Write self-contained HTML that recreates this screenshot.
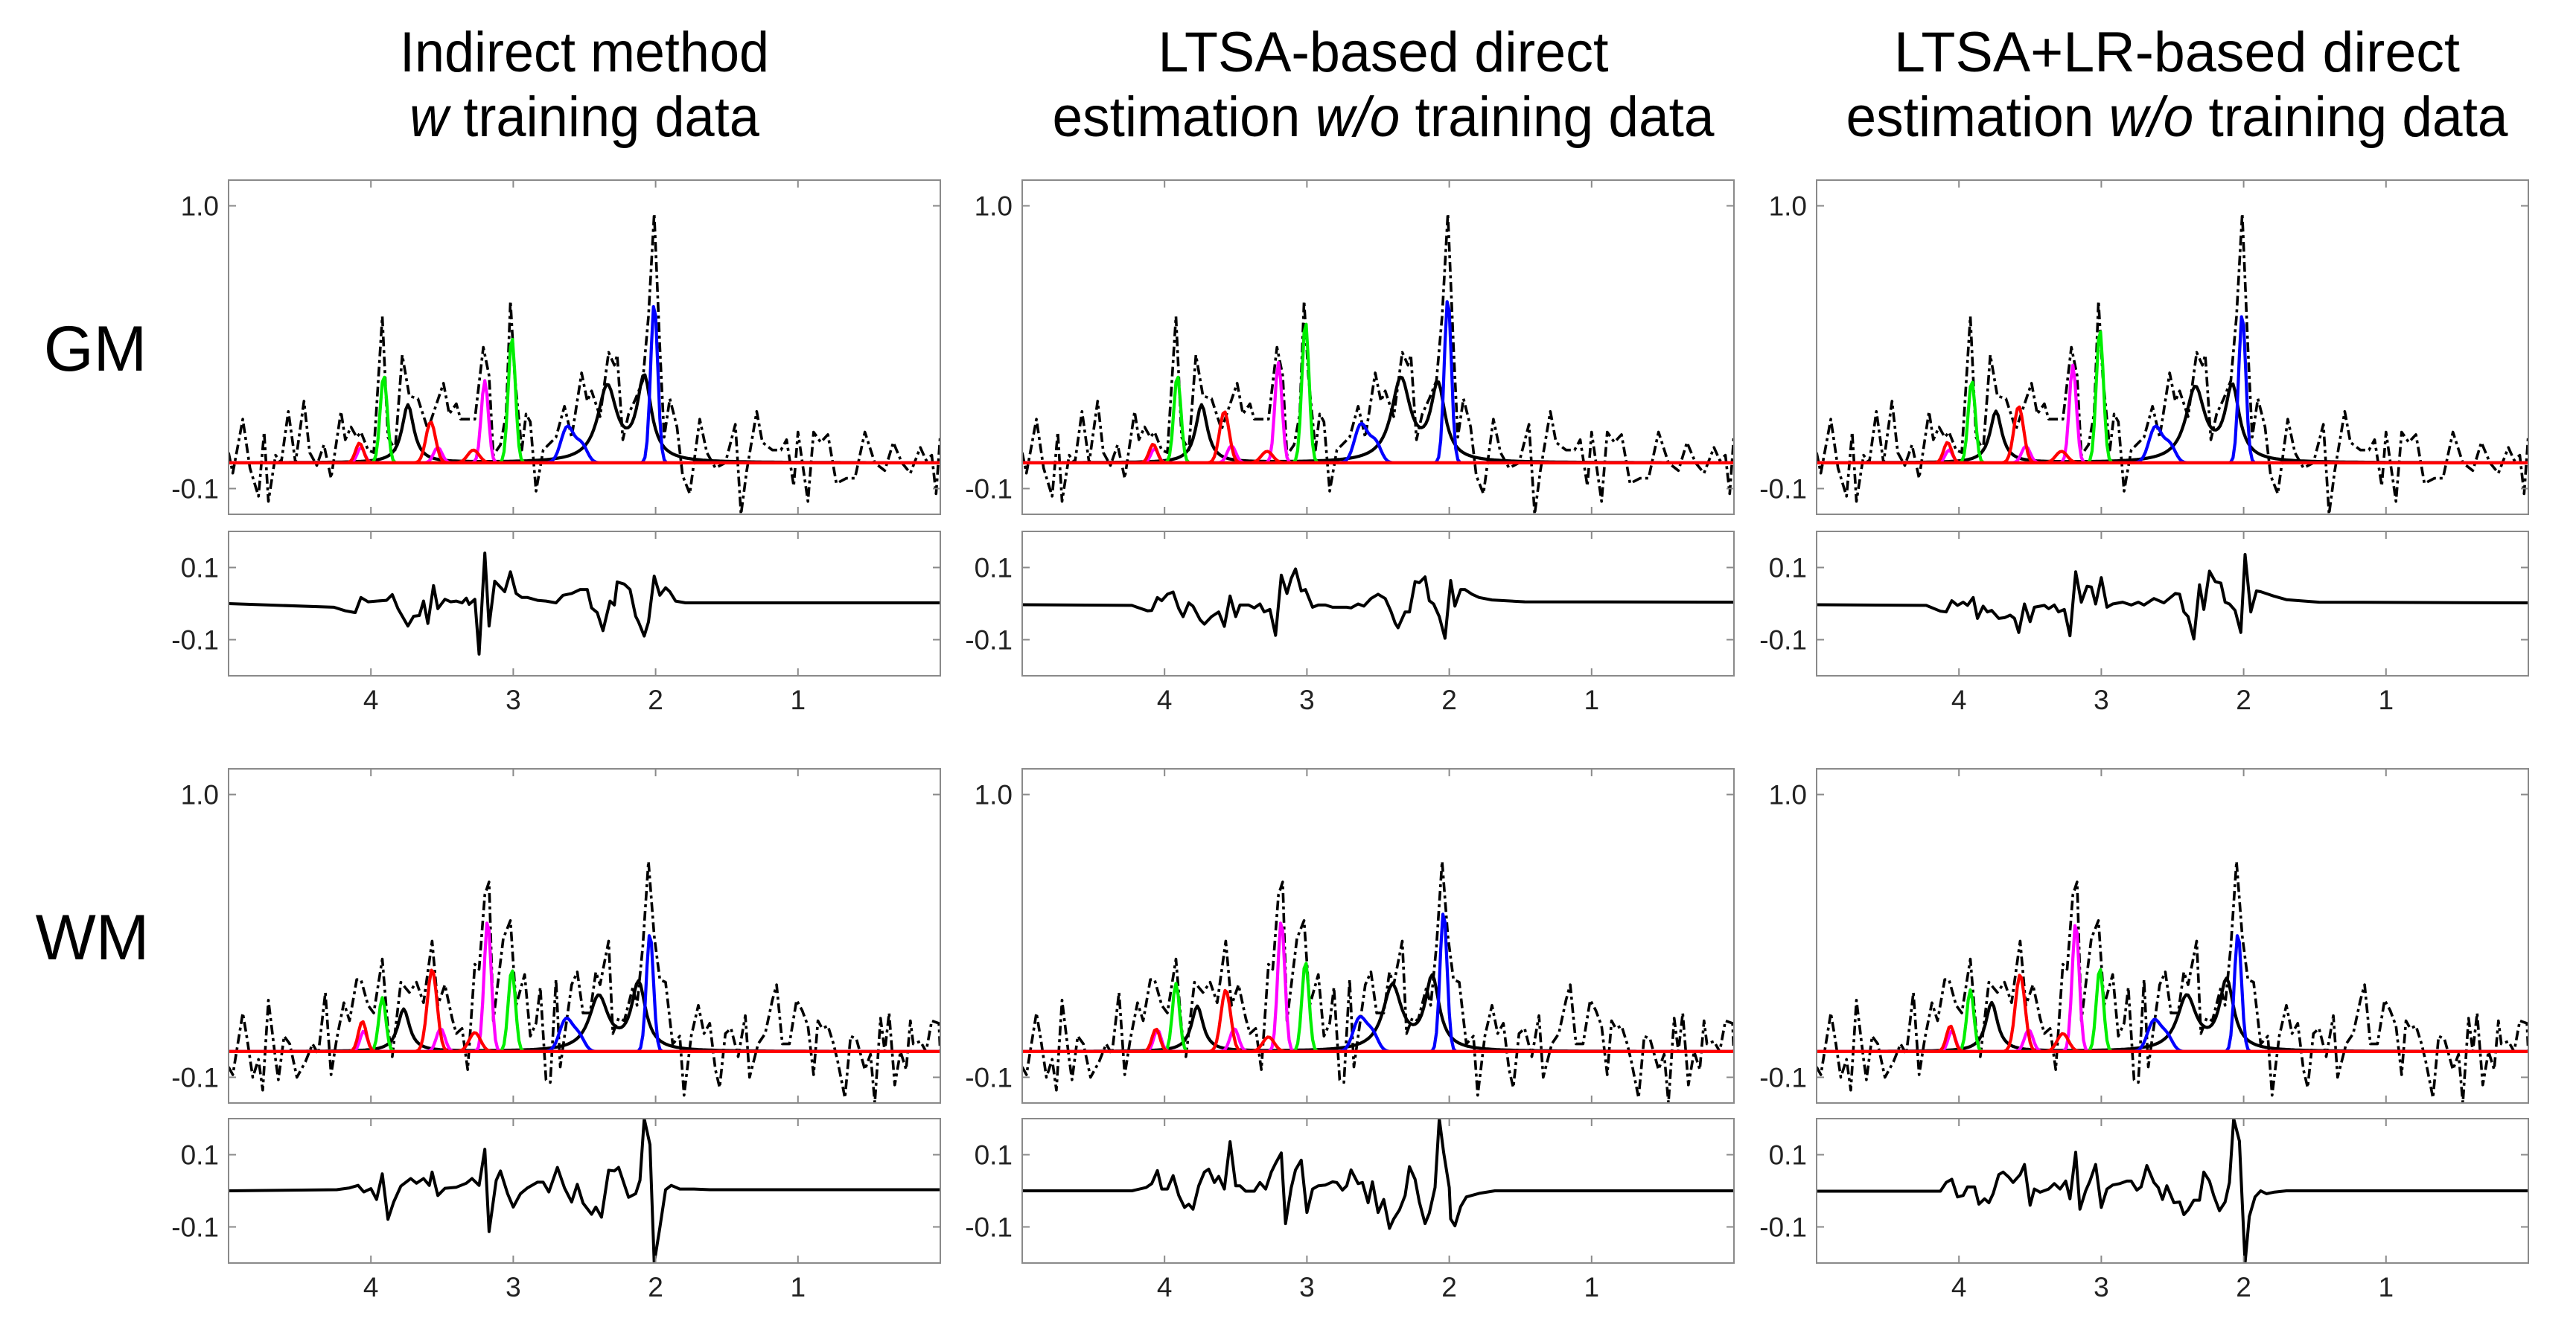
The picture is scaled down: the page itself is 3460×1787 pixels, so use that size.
<!DOCTYPE html>
<html><head><meta charset="utf-8"><style>
html,body{margin:0;padding:0;background:#fff;}
svg{display:block;font-family:"Liberation Sans",Arial,sans-serif;}
</style></head><body>
<svg id="fig" width="3460" height="1787" viewBox="0 0 3460 1787" xmlns="http://www.w3.org/2000/svg">
<rect width="3460" height="1787" fill="#fff"/>
<g font-size="76" text-anchor="middle" fill="#000">
<text x="785" y="96" textLength="496" lengthAdjust="spacingAndGlyphs">Indirect method</text>
<text x="785" y="183" textLength="470" lengthAdjust="spacingAndGlyphs"><tspan font-style="italic">w</tspan> training data</text>
<text x="1858" y="96" textLength="605" lengthAdjust="spacingAndGlyphs">LTSA-based direct</text>
<text x="1858" y="183" textLength="889" lengthAdjust="spacingAndGlyphs">estimation <tspan font-style="italic">w/o</tspan> training data</text>
<text x="2924" y="96" textLength="760" lengthAdjust="spacingAndGlyphs">LTSA+LR-based direct</text>
<text x="2924" y="183" textLength="889" lengthAdjust="spacingAndGlyphs">estimation <tspan font-style="italic">w/o</tspan> training data</text>
</g>
<text x="128" y="498" font-size="86" text-anchor="middle">GM</text>
<text x="124" y="1289" font-size="86" text-anchor="middle">WM</text>
<g id="panels"></g>
</svg>
<script>
const gmPpm=[5.00,4.97,4.90,4.85,4.79,4.75,4.72,4.67,4.63,4.58,4.53,4.47,4.43,4.38,4.33,4.28,4.21,4.18,4.14,4.10,4.07,4.02,3.98,3.92,3.88,3.83,3.78,3.73,3.67,3.60,3.49,3.45,3.40,3.37,3.33,3.27,3.24,3.21,3.17,3.14,3.09,3.05,3.02,2.99,2.94,2.91,2.88,2.84,2.79,2.70,2.64,2.59,2.52,2.48,2.45,2.39,2.33,2.29,2.27,2.23,2.19,2.14,2.09,2.05,2.01,1.97,1.94,1.90,1.85,1.81,1.76,1.69,1.64,1.58,1.51,1.44,1.40,1.36,1.29,1.25,1.18,1.12,1.08,1.03,1.00,0.93,0.89,0.84,0.79,0.73,0.66,0.60,0.53,0.46,0.39,0.33,0.27,0.21,0.14,0.10,0.06,0.03,0.00];
const gmVal=[0.04,-0.04,0.17,-0.02,-0.13,0.12,-0.15,0.03,0.00,0.20,0.00,0.24,0.04,-0.01,0.07,-0.06,0.20,0.09,0.14,0.10,0.12,0.05,0.04,0.57,0.10,0.05,0.42,0.26,0.25,0.13,0.31,0.19,0.23,0.17,0.17,0.17,0.31,0.45,0.34,0.03,0.07,0.19,0.63,0.34,0.05,0.19,0.16,-0.11,0.05,0.10,0.22,0.10,0.35,0.24,0.28,0.18,0.43,0.38,0.42,0.09,0.19,0.25,0.32,0.57,0.97,0.45,0.10,0.25,0.14,-0.05,-0.12,0.17,0.04,-0.02,0.00,0.15,-0.20,-0.03,0.20,0.08,0.05,0.05,0.09,-0.09,0.12,-0.15,0.12,0.08,0.11,-0.08,-0.06,-0.06,0.12,0.00,-0.03,0.08,0.00,-0.04,0.06,0.01,0.03,-0.12,0.11];
const wmPpm=[5.00,4.97,4.90,4.87,4.83,4.79,4.76,4.72,4.67,4.65,4.61,4.57,4.52,4.46,4.41,4.37,4.32,4.28,4.24,4.19,4.15,4.10,4.07,4.02,3.98,3.92,3.88,3.85,3.79,3.73,3.68,3.63,3.57,3.53,3.48,3.43,3.40,3.36,3.32,3.27,3.24,3.20,3.17,3.14,3.07,3.02,2.98,2.92,2.88,2.84,2.81,2.77,2.74,2.70,2.67,2.59,2.55,2.51,2.46,2.42,2.39,2.33,2.30,2.26,2.22,2.16,2.13,2.09,2.05,2.01,1.97,1.93,1.88,1.83,1.80,1.75,1.70,1.66,1.62,1.58,1.55,1.51,1.47,1.42,1.37,1.34,1.28,1.23,1.18,1.15,1.11,1.06,1.01,0.97,0.93,0.89,0.86,0.83,0.79,0.75,0.72,0.67,0.63,0.59,0.53,0.49,0.46,0.42,0.39,0.36,0.32,0.28,0.24,0.21,0.19,0.14,0.10,0.06,0.01,0.00];
const wmVal=[-0.06,-0.09,0.15,0.05,-0.10,-0.03,-0.15,0.20,-0.03,-0.11,0.06,0.03,-0.10,-0.04,0.03,-0.01,0.23,-0.09,0.05,0.19,0.12,0.28,0.28,0.18,0.15,0.36,0.09,-0.02,0.27,0.23,0.27,0.19,0.43,0.18,0.26,0.13,0.07,0.09,-0.07,0.34,0.32,0.61,0.66,0.12,0.44,0.51,0.18,0.30,0.06,0.11,0.25,-0.11,-0.12,0.28,-0.06,0.26,0.31,0.15,0.15,0.31,0.26,0.43,0.07,0.13,0.12,0.25,0.18,0.41,0.74,0.45,0.28,0.27,0.03,0.06,-0.17,0.06,0.18,0.07,0.11,-0.07,-0.14,0.07,0.09,-0.02,0.14,-0.10,0.03,0.07,0.20,0.26,0.03,0.03,0.20,0.16,0.10,-0.09,0.12,0.09,0.10,0.03,-0.04,-0.18,0.06,0.05,-0.07,-0.01,-0.20,0.13,0.00,0.15,-0.13,0.00,-0.07,0.12,0.03,0.04,0.00,0.12,0.11,-0.01];

const compColors=["#ff0000","#ff0000","#ff0000","#ff00ff","#ff00ff","#ff00ff","#00ee00","#00ee00","#000000","#000000","#000000","#0000ff","#0000ff","#0000ff"];
const compWidths=[0.028,0.034,0.04,0.026,0.03,0.025,0.025,0.025,0.05,0.08,0.06,0.045,0.04,0.025];
const compLorentz=[0,0,0,0,0,0,0,0,1,1,1,0,0,0];
const gmCenters=[4.08,3.58,3.28,4.07,3.53,3.20,3.91,3.01,3.74,2.34,2.08,2.62,2.52,2.01];
const wmCenters=[4.06,3.57,3.27,4.05,3.51,3.18,3.92,3.01,3.77,2.40,2.12,2.63,2.54,2.04];
const gmHeights1=[0.077,0.16,0.05,0.06,0.06,0.32,0.34,0.49,0.225,0.29,0.32,0.14,0.07,0.62];
const gmHeights2=[0.073,0.20,0.045,0.055,0.067,0.39,0.34,0.55,0.225,0.32,0.29,0.15,0.08,0.64];
const gmHeights3=[0.08,0.22,0.045,0.05,0.065,0.38,0.32,0.52,0.2,0.285,0.285,0.14,0.07,0.58];
const wmHeights1=[0.118,0.32,0.074,0.08,0.09,0.51,0.21,0.32,0.165,0.21,0.26,0.125,0.06,0.46];
const wmHeights2=[0.088,0.24,0.057,0.085,0.09,0.51,0.265,0.35,0.176,0.25,0.28,0.13,0.07,0.545];
const wmHeights3=[0.1,0.30,0.07,0.08,0.085,0.50,0.24,0.325,0.19,0.21,0.27,0.12,0.06,0.46];

const resGm1P=[5.00,4.26,4.18,4.11,4.07,4.02,3.96,3.89,3.85,3.81,3.74,3.70,3.66,3.63,3.60,3.56,3.53,3.48,3.44,3.40,3.36,3.33,3.31,3.27,3.24,3.20,3.17,3.13,3.06,3.02,2.98,2.94,2.90,2.83,2.77,2.70,2.65,2.59,2.53,2.48,2.45,2.41,2.37,2.32,2.29,2.27,2.22,2.18,2.14,2.12,2.08,2.05,2.01,1.97,1.93,1.90,1.86,1.79,1.40,0.00];
const resGm1V=[0.00,-0.01,-0.02,-0.025,0.017,0.005,0.007,0.009,0.025,-0.014,-0.062,-0.035,-0.033,0.007,-0.055,0.05,-0.014,0.012,0.005,0.007,0.002,0.015,-0.002,0.012,-0.14,0.14,-0.062,0.062,0.033,0.088,0.028,0.017,0.017,0.009,0.007,0.002,0.023,0.028,0.039,0.039,-0.012,-0.025,-0.075,0.007,-0.004,0.06,0.054,0.039,-0.035,-0.051,-0.09,-0.051,0.076,0.023,0.044,0.033,0.007,0.002,0.002,0.002];
const resGm2P=[5.00,4.23,4.12,4.09,4.05,4.02,3.98,3.94,3.90,3.87,3.83,3.80,3.75,3.72,3.67,3.62,3.58,3.54,3.50,3.47,3.41,3.37,3.33,3.30,3.26,3.22,3.18,3.14,3.11,3.08,3.04,3.01,2.96,2.92,2.87,2.82,2.77,2.72,2.69,2.64,2.60,2.55,2.50,2.45,2.41,2.38,2.36,2.31,2.28,2.24,2.21,2.17,2.14,2.11,2.07,2.03,1.99,1.96,1.92,1.89,1.84,1.79,1.70,1.47,0.00];
const resGm2V=[-0.003,-0.005,-0.02,-0.019,0.017,0.008,0.026,0.032,-0.014,-0.036,0.002,-0.007,-0.045,-0.057,-0.036,-0.023,-0.063,0.021,-0.036,-0.004,-0.004,-0.012,-0.001,-0.023,-0.016,-0.088,0.079,0.028,0.07,0.096,0.035,0.039,-0.01,-0.004,-0.004,-0.01,-0.01,-0.01,-0.012,-0.001,-0.007,0.014,0.026,0.014,-0.021,-0.054,-0.067,-0.023,-0.023,0.061,0.058,0.074,0.008,-0.001,-0.036,-0.096,0.064,-0.007,0.039,0.039,0.026,0.017,0.01,0.005,0.004];
const resGm3P=[5.00,4.23,4.13,4.09,4.05,4.01,3.97,3.94,3.90,3.87,3.83,3.80,3.77,3.72,3.68,3.64,3.61,3.58,3.54,3.50,3.47,3.40,3.37,3.33,3.30,3.26,3.22,3.18,3.14,3.10,3.07,3.04,3.00,2.96,2.92,2.85,2.79,2.74,2.70,2.63,2.56,2.48,2.45,2.42,2.39,2.35,2.31,2.28,2.24,2.20,2.16,2.13,2.10,2.06,2.02,1.99,1.95,1.91,1.88,1.79,1.70,1.47,0.00];
const resGm3V=[-0.003,-0.005,-0.021,-0.023,0.008,-0.005,0.004,-0.005,0.017,-0.041,-0.007,-0.023,-0.019,-0.041,-0.039,-0.032,-0.041,-0.08,-0.001,-0.05,-0.01,-0.005,-0.014,-0.004,-0.023,-0.016,-0.089,0.088,0.004,0.048,0.046,-0.001,0.072,-0.01,-0.001,0.004,-0.004,0.004,-0.004,0.014,0.002,0.028,0.026,-0.023,-0.036,-0.098,0.052,-0.016,0.09,0.061,0.057,0.004,-0.001,-0.019,-0.08,0.136,-0.023,0.035,0.033,0.021,0.011,0.004,0.002];
const resWm1P=[5.00,4.24,4.15,4.09,4.05,4.00,3.96,3.92,3.88,3.84,3.79,3.72,3.68,3.63,3.59,3.57,3.53,3.48,3.40,3.33,3.29,3.24,3.20,3.17,3.12,3.09,3.04,3.00,2.95,2.90,2.83,2.79,2.75,2.69,2.64,2.59,2.55,2.51,2.45,2.42,2.38,2.33,2.29,2.26,2.19,2.14,2.11,2.08,2.04,2.01,1.97,1.93,1.89,1.83,1.73,1.62,0.00];
const resWm1V=[0.00,0.003,0.008,0.015,-0.003,0.006,-0.024,0.047,-0.079,-0.031,0.013,0.034,0.021,0.034,0.015,0.052,-0.013,0.007,0.01,0.021,0.034,0.015,0.115,-0.113,0.029,0.055,-0.008,-0.045,-0.008,0.008,0.024,0.024,-0.003,0.065,0.008,-0.031,0.018,-0.034,-0.065,-0.045,-0.073,0.057,0.055,0.065,-0.018,-0.008,0.029,0.2,0.128,-0.2,-0.102,0.003,0.015,0.005,0.005,0.003,0.003];
const resWm2P=[5.00,4.23,4.13,4.09,4.05,4.02,3.98,3.94,3.90,3.86,3.83,3.80,3.76,3.72,3.69,3.65,3.62,3.58,3.54,3.50,3.47,3.43,3.37,3.33,3.29,3.25,3.22,3.18,3.15,3.11,3.08,3.04,3.00,2.96,2.92,2.87,2.82,2.79,2.75,2.72,2.69,2.64,2.61,2.57,2.54,2.50,2.46,2.42,2.39,2.35,2.31,2.28,2.24,2.21,2.17,2.14,2.10,2.07,2.04,2.00,1.99,1.96,1.92,1.88,1.79,1.68,0.00];
const resWm2V=[0.0,0.0,0.009,0.02,0.056,0.005,0.005,0.042,-0.013,-0.046,-0.037,-0.051,0.014,0.052,0.06,0.023,0.04,0.005,0.136,0.014,0.014,-0.001,-0.001,0.023,0.005,0.052,0.076,0.105,-0.091,0.009,0.058,0.085,-0.06,0.005,0.014,0.016,0.025,0.023,0.002,0.014,0.058,0.02,0.023,-0.033,0.025,-0.06,-0.024,-0.104,-0.078,-0.053,-0.013,0.067,0.032,-0.031,-0.091,-0.062,0.009,0.2,0.107,0.009,-0.078,-0.097,-0.044,-0.017,-0.007,0.0,0.0];
const resWm3P=[5.00,4.13,4.09,4.05,4.01,3.97,3.94,3.89,3.86,3.82,3.79,3.76,3.72,3.69,3.65,3.62,3.57,3.54,3.50,3.47,3.43,3.37,3.33,3.29,3.25,3.22,3.18,3.15,3.11,3.08,3.04,3.00,2.96,2.92,2.87,2.82,2.79,2.75,2.72,2.68,2.63,2.60,2.57,2.54,2.49,2.45,2.42,2.39,2.35,2.31,2.28,2.24,2.21,2.17,2.13,2.10,2.07,2.03,1.99,1.96,1.92,1.88,1.84,1.79,1.70,0.00];
const resWm3V=[-0.001,-0.001,0.023,0.032,-0.017,-0.013,0.011,0.011,-0.037,-0.022,-0.033,-0.008,0.045,0.052,0.038,0.023,0.045,0.073,-0.04,0.005,-0.004,0.005,0.02,0.005,0.027,-0.022,0.107,-0.051,0.0,0.027,0.073,-0.046,0.005,0.016,0.02,0.027,0.027,0.002,0.011,0.07,0.023,0.009,-0.024,0.014,-0.033,-0.031,-0.066,-0.053,-0.026,-0.026,0.052,0.027,-0.013,-0.055,-0.031,0.023,0.2,0.138,-0.2,-0.071,-0.017,0.0,-0.008,-0.004,0.0,0.0];

const xTicks=[4,3,2,1];
const xTickLabels=["4","3","2","1"];
const mainYTicks=[1.0,-0.1];
const mainYTickLabels=["1.0","-0.1"];
const resYTicks=[0.1,-0.1];
const resYTickLabels=["0.1","-0.1"];

const NS="http://www.w3.org/2000/svg";
const root=document.getElementById("panels");
const colLefts=[307,1373,2440], PW=956;
const rows=[{name:"gm",mainTop:242,resTop:714,labY:953,ppm:gmPpm,val:gmVal,centers:gmCenters,heights:[gmHeights1,gmHeights2,gmHeights3],res:[[resGm1P,resGm1V],[resGm2P,resGm2V],[resGm3P,resGm3V]]},
            {name:"wm",mainTop:1033,resTop:1503,labY:1742,ppm:wmPpm,val:wmVal,centers:wmCenters,heights:[wmHeights1,wmHeights2,wmHeights3],res:[[resWm1P,resWm1V],[resWm2P,resWm2V],[resWm3P,resWm3V]]}];
const MH=449, RH=194;
function mk(tag,attrs,parent){const e=document.createElementNS(NS,tag);for(const k in attrs)e.setAttribute(k,attrs[k]);parent.appendChild(e);return e;}
function pathD(xs,ys){let d="";for(let i=0;i<xs.length;i++)d+=(i?"L":"M")+xs[i].toFixed(1)+","+ys[i].toFixed(1);return d;}
let clipId=0;
function frame(g,left,top,h,yt,ytl,yfun){
  const ax=mk("g",{},g);
  
  
  mk("rect",{x:left,y:top,width:PW,height:h,fill:"none",stroke:"#8a8a8a","stroke-width":2},ax);
  xTicks.forEach(t=>{const x=left+(5-t)/5*PW;
    mk("line",{x1:x,y1:top,x2:x,y2:top+10,stroke:"#8a8a8a","stroke-width":2},ax);
    mk("line",{x1:x,y1:top+h,x2:x,y2:top+h-10,stroke:"#8a8a8a","stroke-width":2},ax);});
  yt.forEach((t,i)=>{const y=yfun(t);
    mk("line",{x1:left,y1:y,x2:left+10,y2:y,stroke:"#8a8a8a","stroke-width":2},ax);
    mk("line",{x1:left+PW,y1:y,x2:left+PW-10,y2:y,stroke:"#8a8a8a","stroke-width":2},ax);
    const tx=mk("text",{x:left-13,y:y+13,"font-size":37,"text-anchor":"end",fill:"#222"},ax);
    
    
    tx.textContent=ytl[i];});
}
function clip(g,left,top,h){const id="c"+(clipId++);const cp=mk("clipPath",{id:id},g);mk("rect",{x:left,y:top,width:PW,height:h},cp);return "url(#"+id+")";}
rows.forEach(r=>{
  colLefts.forEach((left,ci)=>{
    const xs=p=>left+(5-p)/5*PW;
    const ym=v=>r.mainTop+(1.1-v)/1.3*MH;
    const yr=v=>r.resTop+(0.2-v)/0.4*RH;
    const g=mk("g",{},root);
    
    
    const cm=clip(g,left,r.mainTop,MH);
    const lines=mk("g",{"clip-path":cm},g);
    
    
    const dsh=mk("path",{d:pathD(r.ppm.map(xs),r.val.map(ym)),fill:"none",stroke:"#000","stroke-width":3.6,"stroke-dasharray":"13,5,4,5","stroke-linejoin":"round"},lines);
    
    
    const grid=[];for(let p=5;p>=-0.001;p-=0.015)grid.push(p);
    const H=r.heights[ci];
    const groups=["#000000","#0000ff","#00ee00","#ff00ff","#ff0000"];
    const gnames={"#000000":"black","#0000ff":"blue","#00ee00":"green","#ff00ff":"magenta","#ff0000":"red"};
    groups.forEach(col=>{
      const vals=grid.map(p=>{let s=0;for(let k=0;k<compColors.length;k++){if(compColors[k]!==col)continue;const d=p-r.centers[k],w=compWidths[k];
        s+=compLorentz[k]?H[k]*w*w/(d*d+w*w):H[k]*Math.exp(-d*d/(2*w*w));}return s;});
      const pe=mk("path",{d:pathD(grid.map(xs),vals.map(ym)),fill:"none",stroke:col,"stroke-width":4.2,"stroke-linejoin":"round"},lines);
      
      
    });
    const bl=mk("line",{x1:left,x2:left+PW,y1:ym(0),y2:ym(0),stroke:"#ff0000","stroke-width":4.2},lines);
    
    
    frame(g,left,r.mainTop,MH,mainYTicks,mainYTickLabels,ym);
    const cr=clip(g,left,r.resTop,RH);
    const rl=mk("path",{d:pathD(r.res[ci][0].map(xs),r.res[ci][1].map(yr)),fill:"none",stroke:"#000","stroke-width":4,"stroke-linejoin":"round","clip-path":cr},g);
    
    
    frame(g,left,r.resTop,RH,resYTicks,resYTickLabels,yr);
    xTicks.forEach((t,i)=>{const tx=mk("text",{x:xs(t),y:r.labY,"font-size":37,"text-anchor":"middle",fill:"#222"},g);
      
      
      tx.textContent=xTickLabels[i];});
  });
});
</script>
</body></html>
